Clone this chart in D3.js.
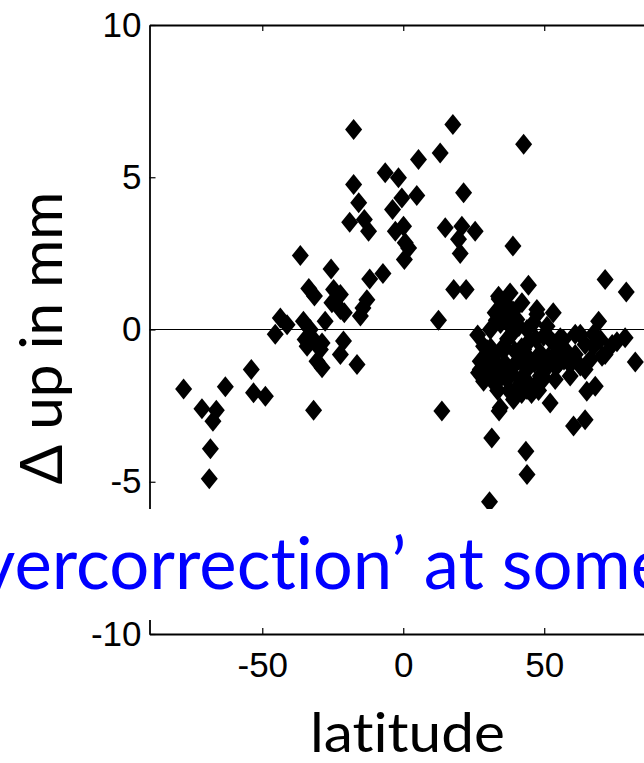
<!DOCTYPE html>
<html>
<head>
<meta charset="utf-8">
<script src="https://cdn.jsdelivr.net/npm/d3@7"></script>
<style>
  html, body { margin: 0; padding: 0; background: #fff; overflow: hidden; }
  svg { display: block; }
  text { font-variant-ligatures: none; font-feature-settings: "liga" 0, "clig" 0; }
</style>
</head>
<body>
<svg id="chart" width="644" height="763"></svg>
<script>
// Station latitude (degrees) and change in vertical position (mm)
const latitude = [
  -77.9, -71.4, -66.3, -67.5, -68.4, -68.8, -63.1, -53.9, -53.1, -48.9,
  -31.8, -16.4, -28.8, -30.6, -22.3, -21.2, -34.1, -29.4, -27.7, -45.4,
  -43.6, -41.2, -35.4, -33.0, -31.8, -34.8, -22.3, -15.2,
  -17.6, -6.4, -17.6, -15.8, -19.0, -13.8, -12.3, -36.5, -25.6, -7.2,
  -11.9, -31.5, -24.7, -22.3, -12.9, -14.3, -25.3, -20.9, -28.8, -33.5,
  -1.7, 5.4, 4.8, -0.5, -3.8, -2.8, 0.1, 0.7, 1.9, 0.4,
  13.1, 17.6, 42.7, 21.4, 14.9, 20.8, 25.5, 19.6, 20.2, 38.9,
  17.9, 22.3, 12.5, 44.4, 71.6, 79.1, 26.4, 53.2, 69.3, 78.7,
  75.8, 82.3, 13.7, 34.0, 31.4, 43.5, 43.9, 30.6, 60.4, 64.5,
  65.1, 68.1, 52.1, 39.1, 32.6, 26.7, 27.3, 29.7, 55.7, 61.0,
  70.5, 67.5, 62.8, 59.2, 43.9, 48.6, 47.4,
  33.8, 37.9, 42.1, 47.4, 32.6, 36.8, 30.9, 28.5, 27.3, 30.9,
  33.5, 34.4, 43.9, 42.7, 45.0, 48.6, 54.5, 56.8, 53.3, 39.1,
  36.8, 41.5, 45.0, 35.6, 32.0, 38.5, 40.3, 35.0, 46.2, 51.0, 49.8,
  57.4, 61.0, 64.5, 66.3, 69.9, 71.6, 74.1, 62.8, 67.4, 59.2,
  64.5, 55.7, 51.0, 53.9,
  34.5, 37.0, 39.5, 41.0, 36.0, 38.0, 44.0, 46.5, 49.0, 51.5,
  50.0, 47.0, 43.0, 40.5, 37.5, 35.0, 33.5, 31.0, 29.5, 36.0,
  39.0, 41.0, 44.5, 47.0, 52.0, 55.0, 57.0, 53.0, 42.0, 38.0,
  35.5, 45.5, 48.0, 42.0, 34.0, 33.0, 30.5, 28.5
];
const deltaUp = [
  -1.95, -2.60, -2.65, -3.01, -3.92, -4.90, -1.88, -1.31, -2.08, -2.19,
  -2.65, -1.15, -1.26, -1.04, -0.82, -0.38, -0.55, -0.66, 0.27, -0.16,
  0.38, 0.16, 0.27, 0.00, -0.33, -0.33, 0.66, 0.44,
  6.57, 5.15, 4.76, 4.16, 3.52, 3.61, 3.23, 2.43, 1.99, 1.84,
  1.66, 1.10, 1.31, 1.15, 0.98, 0.71, 0.88, 0.55, -0.44, 1.35,
  4.98, 5.58, 4.40, 4.32, 3.94, 3.23, 3.39, 2.85, 2.68, 2.30,
  5.80, 6.73, 6.08, 4.49, 3.34, 3.39, 3.23, 2.96, 2.50, 2.74,
  1.31, 1.31, 0.30, 1.45, 1.64, 1.23, -0.18, 0.55, 0.27, -0.27,
  -0.40, -1.07, -2.68, -2.68, -3.56, -4.00, -4.76, -5.66, -3.17, -2.96,
  -2.03, -1.86, -2.41, -2.30, -1.81, -1.42, -1.04, -0.66, -0.27, -0.16,
  -0.88, -0.55, -1.20, -1.53, -1.97, -1.53, 0.66,
  1.09, 1.20, 0.88, 0.50, 0.55, 0.44, 0.00, -0.55, -1.31, -1.42,
  -2.00, -2.57, 0.00, -0.66, -0.99, -0.77, -1.20, -0.33, -0.44, -1.20,
  -1.64, -1.64, -1.86, -0.55, -0.88, -0.16, 0.33, 0.77, 0.22, 0.11, -0.22,
  -0.66, -0.82, -0.49, -0.99, -0.33, -0.82, -0.49, -0.16, -0.16, -1.15,
  -1.31, -1.05, -1.25, -1.64,
  0.20, -0.30, -0.70, -1.00, -1.10, -1.40, -1.30, -1.10, -1.20, -0.90,
  -1.60, -1.80, -1.60, -1.90, -2.00, -1.50, -1.20, -0.60, -1.20, 0.90,
  0.60, 0.10, -0.40, -0.30, -0.30, -0.70, -1.00, -1.10, -0.60, 0.10,
  -0.70, -2.10, -2.00, -2.10, 1.00, 0.30, -0.90, -1.70
];
const xTicks = [-50, 0, 50];
const yTicks = [-10, -5, 0, 5, 10];
const xLabel = "latitude";
const yLabel = "\u0394 up in mm";
const noteText = "vercorrection\u2019 at some";

const points = latitude.map((lat, i) => ({ lat, val: deltaUp[i] }));

const svg = d3.select("#chart");
const x = d3.scaleLinear().domain([-90, 90]).range([149.5, 657]);
const y = d3.scaleLinear().domain([-10, 10]).range([634, 25]);

const tickFont = "'Liberation Sans', Arial, Helvetica, sans-serif";
const titleFont = "Lato, 'Open Sans', 'Noto Sans', sans-serif";
const plainNumber = d => String(d);   // hyphen-minus, as printed on the axes

// zero reference line
svg.append("line")
  .attr("x1", x(-90)).attr("x2", x(90))
  .attr("y1", y(0)).attr("y2", y(0))
  .attr("stroke", "#000").attr("stroke-width", 1);

// filled diamond markers
const hw = 8.5, hh = 10.5;
const diamond = `M0,${-hh}L${hw},0L0,${hh}L${-hw},0Z`;
svg.append("g").selectAll("path")
  .data(points)
  .join("path")
  .attr("d", diamond)
  .attr("transform", d => `translate(${x(d.lat)},${y(d.val)})`)
  .attr("fill", "#000");

function styleAxis(g) {
  g.select(".domain").attr("stroke", "#000").attr("stroke-width", 1.8);
  g.selectAll(".tick line").attr("stroke", "#000").attr("stroke-width", 1.2);
  g.selectAll(".tick text")
    .attr("fill", "#000")
    .style("font-family", tickFont)
    .style("font-size", "35px");
}

// box: bottom, left, top
svg.append("g")
  .attr("transform", `translate(0,${y(-10)})`)
  .call(d3.axisBottom(x).tickValues(xTicks).tickFormat(plainNumber)
    .tickSizeInner(-6).tickSizeOuter(0).tickPadding(18))
  .call(styleAxis);

svg.append("g")
  .attr("transform", `translate(${x(-90)},0)`)
  .call(d3.axisLeft(y).tickValues(yTicks).tickFormat(plainNumber)
    .tickSizeInner(-6).tickSizeOuter(0).tickPadding(8))
  .call(styleAxis);

svg.append("g")
  .attr("transform", `translate(0,${y(10)})`)
  .call(d3.axisTop(x).tickValues(xTicks).tickSizeInner(-6).tickSizeOuter(0).tickFormat(""))
  .call(styleAxis);

// axis titles
svg.append("text")
  .attr("x", 407.5).attr("y", 752)
  .attr("text-anchor", "middle")
  .attr("textLength", 195).attr("lengthAdjust", "spacingAndGlyphs")
  .style("font-family", titleFont).style("font-size", "55px")
  .attr("fill", "#000")
  .text(xLabel);

svg.append("text")
  .attr("transform", "translate(62,338) rotate(-90)")
  .attr("text-anchor", "middle")
  .attr("textLength", 293).attr("lengthAdjust", "spacingAndGlyphs")
  .style("font-family", titleFont).style("font-size", "59px")
  .attr("fill", "#000")
  .text(yLabel);

// annotation banner across the lower plot area
svg.append("rect")
  .attr("x", 0).attr("y", 509)
  .attr("width", 644).attr("height", 111)
  .attr("fill", "#fff");

svg.append("text")
  .attr("x", -21).attr("y", 589)
  .attr("textLength", 689).attr("lengthAdjust", "spacingAndGlyphs")
  .style("font-family", titleFont).style("font-size", "71px")
  .attr("fill", "#0000ff")
  .text(noteText);
</script>
</body>
</html>
